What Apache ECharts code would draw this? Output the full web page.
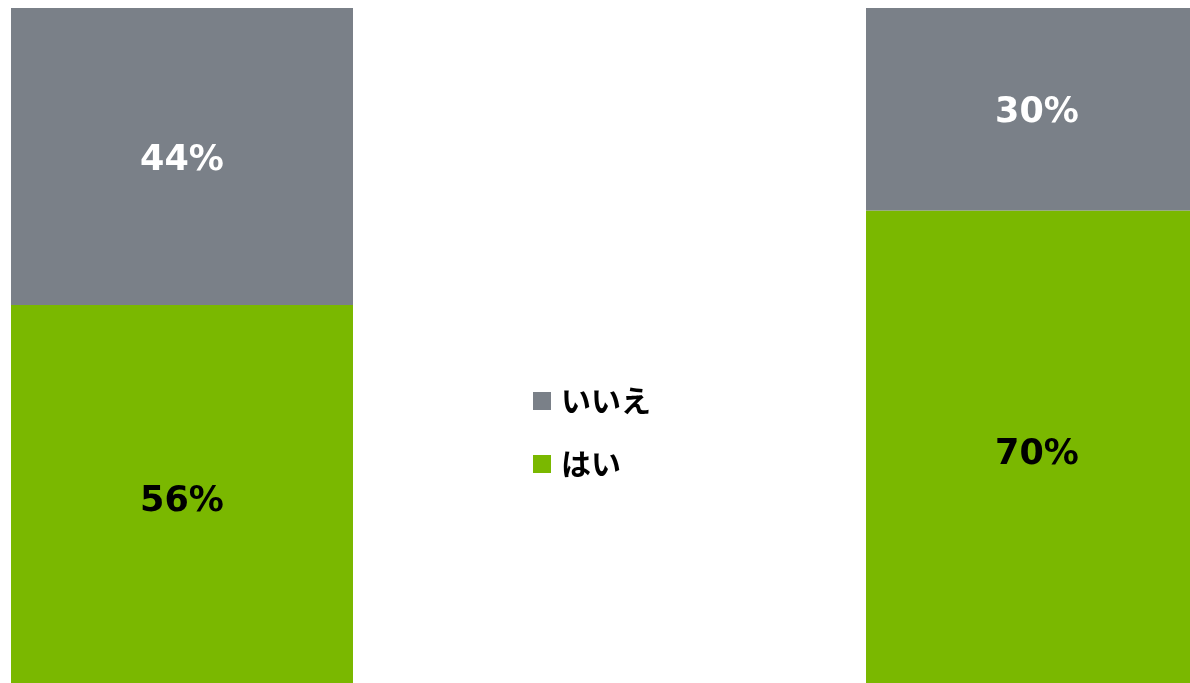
<!DOCTYPE html>
<html>
<head>
<meta charset="utf-8">
<script src="https://cdn.jsdelivr.net/npm/echarts@6/dist/echarts.min.js"></script>
<style>
  * { margin: 0; padding: 0; }
  html, body { width: 1190px; height: 683px; background: #fff; overflow: hidden; }
  #main { width: 1190px; height: 683px; }
</style>
</head>
<body>
<div id="main"></div>
<script>
var categories = ['A', 'B']
var yesValues = [56, 70]
var noValues = [44, 30]
var seriesNames = ['いいえ', 'はい']

var myChart = echarts.init(document.getElementById('main'))

// boundaryGap false puts the two bars on the grid edges; bars spill past them
var option = {
  animation: false,
  grid: { left: 182, right: 153, top: 8, bottom: 0, containLabel: false },
  xAxis: {
    type: 'category',
    data: categories,
    boundaryGap: false,
    show: false
  },
  yAxis: {
    type: 'value',
    min: 0,
    max: 100,
    show: false
  },
  legend: {
    data: seriesNames,
    orient: 'vertical',
    left: 533,
    top: 386,
    padding: 0,
    itemWidth: 18,
    itemHeight: 18,
    itemGap: 33,
    icon: 'rect',
    textStyle: {
      fontFamily: 'Noto Sans CJK JP',
      fontWeight: 'bold',
      fontSize: 30,
      color: '#000',
      padding: [0, 0, 0, 5]
    }
  },
  series: [
    {
      name: 'はい',
      type: 'bar',
      stack: 'total',
      data: yesValues,
      barWidth: 342,
      clip: false,
      itemStyle: { color: '#7AB800' },
      label: {
        show: true,
        position: 'inside',
        formatter: '{c}%',
        color: '#000',
        fontFamily: 'DejaVu Sans',
        fontWeight: 'bold',
        fontSize: 35,
        offset: [0, 8]
      }
    },
    {
      name: 'いいえ',
      type: 'bar',
      stack: 'total',
      data: noValues,
      barWidth: 342,
      clip: false,
      itemStyle: { color: '#7A8088' },
      label: {
        show: true,
        position: 'inside',
        formatter: '{c}%',
        color: '#fff',
        fontFamily: 'DejaVu Sans',
        fontWeight: 'bold',
        fontSize: 35,
        offset: [0, 4]
      }
    }
  ]
}

myChart.setOption(option)
</script>
</body>
</html>
